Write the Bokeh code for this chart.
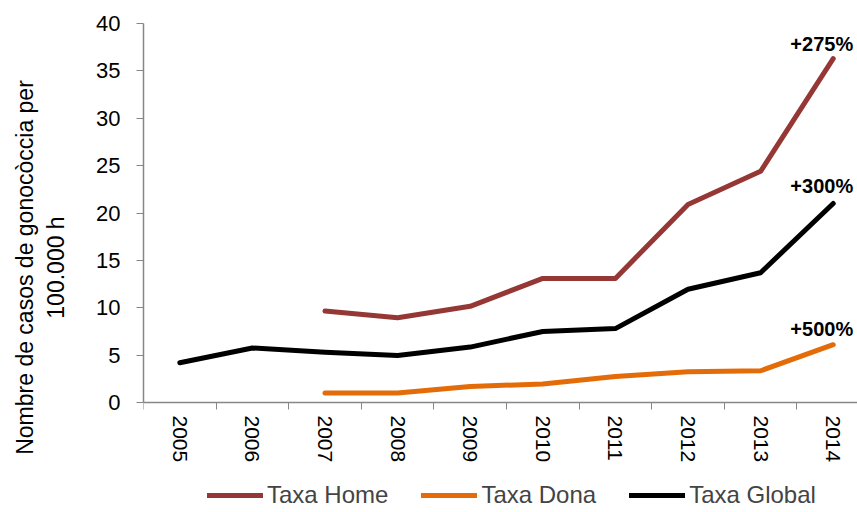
from bokeh.plotting import figure
from bokeh.models import FixedTicker, Range1d, Legend, LegendItem, ColumnDataSource, LinearAxis
from bokeh.core.properties import value
from bokeh.embed import file_html
from bokeh.resources import INLINE

years = [2005, 2006, 2007, 2008, 2009, 2010, 2011, 2012, 2013, 2014]
year_labels = ["2005", "2006", "2007", "2008", "2009", "2010", "2011", "2012", "2013", "2014"]
home_years = [2007, 2008, 2009, 2010, 2011, 2012, 2013, 2014]
taxa_home = [9.65, 8.95, 10.15, 13.1, 13.1, 20.9, 24.4, 36.3]
taxa_dona = [1.0, 1.0, 1.7, 1.95, 2.75, 3.25, 3.35, 6.1]
taxa_global = [4.2, 5.75, 5.3, 4.95, 5.85, 7.5, 7.8, 11.95, 13.7, 21.0]
pct_labels = ["+275%", "+300%", "+500%"]
pct_y = [37.8, 22.8, 7.8]

FONT = "Liberation Sans"
GRAY = "#868686"
C_HOME = "#953735"
C_DONA = "#E36C09"
C_GLOBAL = "#000000"

PLOT_H = 379      # pixel height of the 0..40 data area
FRAME_H = 488     # frame extends below zero to host axis labels and legend
y_start = -40.0 * (FRAME_H - PLOT_H) / PLOT_H

p = figure(frame_width=714, frame_height=FRAME_H, output_backend="svg", toolbar_location=None,
           x_range=Range1d(2004.5, 2004.5 + 714 / 72.6), y_range=Range1d(y_start, 40),
           x_axis_location=None,
           min_border_left=143, min_border_top=23, min_border_right=0, min_border_bottom=0)
p.outline_line_color = None
p.xgrid.grid_line_color = None
p.ygrid.grid_line_color = None

r_home = p.line(home_years, taxa_home, line_color=C_HOME, line_width=5, line_join="round", line_cap="round")
r_dona = p.line(home_years, taxa_dona, line_color=C_DONA, line_width=5, line_join="round", line_cap="round")
r_glob = p.line(years, taxa_global, line_color=C_GLOBAL, line_width=5, line_join="round", line_cap="round")

src = ColumnDataSource(dict(x=[years[-1]] * 3, y=pct_y, t=pct_labels))
p.text(x="x", y="y", text="t", source=src, x_offset=20, text_align="right", text_baseline="alphabetic",
       text_font=value(FONT), text_font_size="20px", text_font_style="bold", text_color="#000000")

# x axis drawn at y = 0
xa = LinearAxis(fixed_location=0)
xa.ticker = FixedTicker(ticks=years, minor_ticks=[y - 0.5 for y in years])
xa.major_label_overrides = {y: l for y, l in zip(years, year_labels)}
xa.major_tick_line_color = None
xa.minor_tick_line_color = GRAY
xa.minor_tick_out = 7
xa.minor_tick_in = 0
xa.axis_line_color = GRAY
xa.axis_line_width = 1.5
xa.major_label_orientation = "vertical"
xa.major_label_standoff = 6
xa.major_label_text_font = FONT
xa.major_label_text_font_size = "21px"
xa.major_label_text_color = "#000000"
p.add_layout(xa, "below")

ya = p.yaxis[0]
ya.bounds = (0, 40)
ya.ticker = FixedTicker(ticks=list(range(0, 45, 5)))
ya.axis_line_color = GRAY
ya.axis_line_width = 1.5
ya.major_tick_line_color = GRAY
ya.major_tick_out = 7
ya.major_tick_in = 0
ya.minor_tick_line_color = None
ya.major_label_standoff = 16
ya.major_label_text_font = FONT
ya.major_label_text_font_size = "22px"
ya.major_label_text_color = "#000000"
ya.axis_label = "Nombre de casos de gonocòccia per\n100.000 h"
ya.axis_label_text_font = FONT
ya.axis_label_text_font_size = "23px"
ya.axis_label_text_font_style = "normal"
ya.axis_label_text_color = "#000000"
ya.axis_label_standoff = 24

legend = Legend(items=[LegendItem(label="Taxa Home", renderers=[r_home]),
                       LegendItem(label="Taxa Dona", renderers=[r_dona]),
                       LegendItem(label="Taxa Global", renderers=[r_glob])],
                orientation="horizontal", location=(64, 2), glyph_width=56, glyph_height=24,
                label_text_font=FONT, label_text_font_size="24px", label_standoff=4, spacing=33,
                border_line_color=None, background_fill_alpha=0, margin=0, padding=0)
p.add_layout(legend, "center")

open("out.html", "w").write(file_html(p, INLINE))
